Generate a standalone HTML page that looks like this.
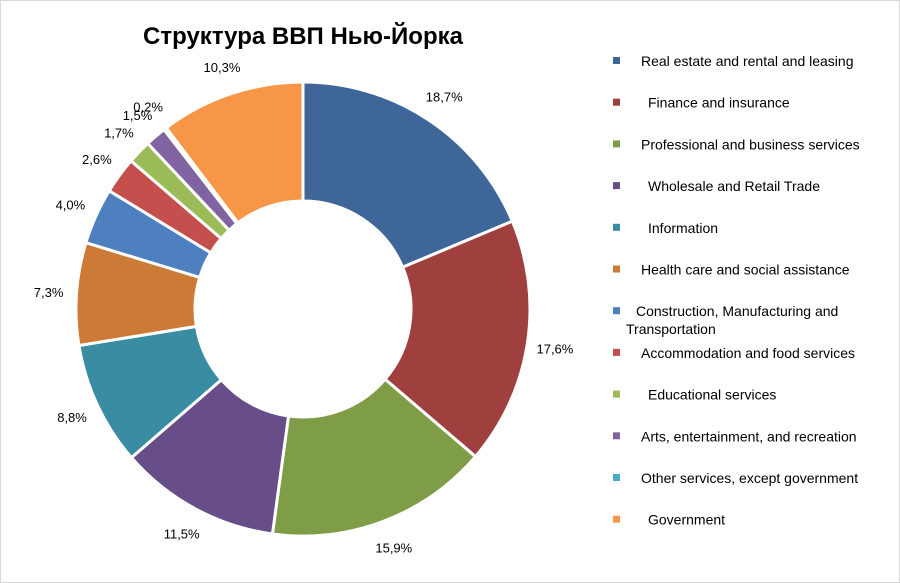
<!DOCTYPE html>
<html><head><meta charset="utf-8"><style>
body{margin:0;background:#fff;font-family:"Liberation Sans",sans-serif}
svg{display:block}
</style></head><body>
<svg width="900" height="583">
<rect x="0.5" y="0.5" width="899" height="582" fill="#fff" stroke="#d9d9d9"/>
<text x="303" y="44" font-size="24" font-weight="bold" text-anchor="middle" fill="#000">Структура ВВП Нью-Йорка</text>
<g id="slices"></g><g id="labels"></g><g id="legend"></g>
</svg>
<script>
const categories=["Real estate and rental and leasing","Finance and insurance","Professional and business services","Wholesale and Retail Trade","Information","Health care and social assistance","Construction, Manufacturing and|Transportation","Accommodation and food services","Educational services","Arts, entertainment, and recreation","Other services, except government","Government"];
const values=[18.7,17.6,15.9,11.5,8.8,7.3,4.0,2.6,1.7,1.5,0.2,10.3];
const valueLabels=["18,7%","17,6%","15,9%","11,5%","8,8%","7,3%","4,0%","2,6%","1,7%","1,5%","0,2%","10,3%"];
const colors=["#3E6699","#A0403E","#7F9D46","#684E89","#3A8CA3","#CC7A35","#4E7FBF","#C54F4C","#9BBB59","#8064A2","#4BACC6","#F79646"];
const cx=303,cy=309,R=227,r0=108,NS="http://www.w3.org/2000/svg";
const total=values.reduce((a,b)=>a+b,0);
function pt(a,rad){return [cx+rad*Math.sin(a),cy-rad*Math.cos(a)];}
let acc=0;
const sg=document.getElementById('slices'),lg=document.getElementById('labels'),leg=document.getElementById('legend');
values.forEach((v,i)=>{
 const a0=acc/total*2*Math.PI,a1=(acc+v)/total*2*Math.PI;acc+=v;
 const big=(a1-a0)>Math.PI?1:0;
 const [x0,y0]=pt(a0,R),[x1,y1]=pt(a1,R),[x2,y2]=pt(a1,r0),[x3,y3]=pt(a0,r0);
 const p=document.createElementNS(NS,'path');
 p.setAttribute('d',`M${x0},${y0}A${R},${R} 0 ${big} 1 ${x1},${y1}L${x2},${y2}A${r0},${r0} 0 ${big} 0 ${x3},${y3}Z`);
 p.setAttribute('fill',colors[i]);p.setAttribute('stroke','#fff');p.setAttribute('stroke-width','3');
 
 
 sg.appendChild(p);
 const am=(a0+a1)/2;const [lx,ly]=pt(am,R+28);
 const t=document.createElementNS(NS,'text');
 t.setAttribute('x',lx);t.setAttribute('y',ly+5);t.setAttribute('font-size','13');t.setAttribute('text-anchor','middle');
 t.textContent=valueLabels[i];
 
 
 lg.appendChild(t);
 const y=61+i*41.7;
 const m=document.createElementNS(NS,'rect');
 m.setAttribute('x',613);m.setAttribute('y',y-4);m.setAttribute('width',7);m.setAttribute('height',7);m.setAttribute('fill',colors[i]);
 
 
 leg.appendChild(m);
 const lines=categories[i].split('|');
 lines.forEach((s,k)=>{
  const tt=document.createElementNS(NS,'text');
  tt.setAttribute('x',k?626:(lines.length>1?636:648-(s.length>30?7:0)));tt.setAttribute('y',y+5+k*18);tt.setAttribute('font-size','14');
  tt.textContent=s;
  
  
  leg.appendChild(tt);
 });
});
</script>
</body></html>
